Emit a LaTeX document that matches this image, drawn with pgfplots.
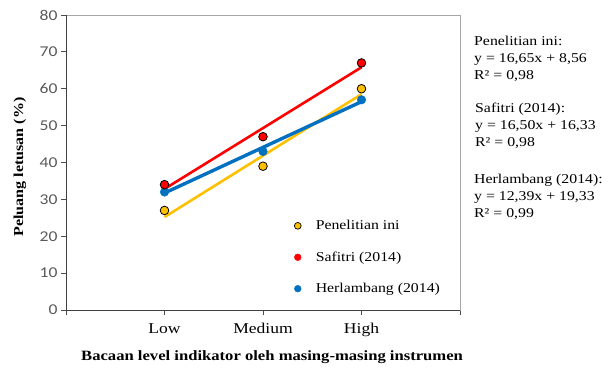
\documentclass[border=0pt]{standalone}
\usepackage{fontspec}
\setmainfont{Liberation Serif}[FakeStretch=1.17]
\newfontfamily\calibri{Carlito}[FakeStretch=1.17]
\usepackage{pgfplots}
\pgfplotsset{compat=1.18}
\definecolor{cyel}{HTML}{FFC000}
\definecolor{cred}{HTML}{FF0000}
\definecolor{cblue}{HTML}{0070C0}
\definecolor{framegrey}{HTML}{A6A6A6}
\definecolor{ticktext}{HTML}{595959}
\begin{document}
\begin{tikzpicture}[x=1pt,y=1pt]
\useasboundingbox (0,0) rectangle (609,368);
\begin{axis}[
  at={(66pt,58pt)}, anchor=south west,
  scale only axis, width=394pt, height=295pt,
  xmin=0, xmax=4, ymin=0, ymax=80,
  xtick={0,1,2,3,4}, xticklabels={,Low,Medium,High,},
  ytick={0,10,...,80},
  xtick pos=bottom, ytick pos=left, tick align=outside,
  major tick length=5pt,
  axis line style={draw=framegrey, line width=1pt},
  every tick/.style={draw=black!70, line width=0.8pt},
  /pgf/number format/assume math mode=true,
  yticklabel style={font=\calibri\fontsize{15}{17}\selectfont, text=ticktext},
  xticklabel style={font=\fontsize{15}{17}\selectfont, yshift=-5pt},
  xlabel={Bacaan level indikator oleh masing-masing instrumen},
  ylabel={Peluang letusan (\%)},
  xlabel style={font=\bfseries\fontsize{14.2}{16}\selectfont, at={(axis description cs:0.523,-0.16)}, anchor=center},
  ylabel style={font=\bfseries\fontsize{13.7}{16}\selectfont, at={(axis description cs:-0.117,0.485)}, anchor=center},
  legend style={at={(rel axis cs:0.570,0.318)}, anchor=north west, draw=none, fill=none,
    font=\fontsize{13.5}{16}\selectfont, row sep=16.5pt},
  legend cell align=left,
  legend image code/.code={\path[draw=none,fill=none] (-4pt,-2pt) rectangle (16pt,2pt); \draw[#1] plot coordinates {(0pt,0pt)};},
  clip=false,
]
% legend images
\addlegendimage{only marks, mark=*, mark size=3.4pt, mark options={draw=black, fill=cyel, line width=0.7pt}}
\addlegendentry{Penelitian ini}
\addlegendimage{only marks, mark=*, mark size=3.4pt, mark options={draw=cred, fill=cred}}
\addlegendentry{Safitri (2014)}
\addlegendimage{only marks, mark=*, mark size=3.4pt, mark options={draw=cblue, fill=cblue}}
\addlegendentry{Herlambang (2014)}
% Herlambang data (under the line)
\addplot[only marks, mark=*, mark size=4.3pt, mark options={draw=cblue, fill=cblue}, forget plot]
  coordinates {(1,32) (2,43) (3,57)};
% trend lines
\addplot[cyel, line width=2.6pt, forget plot] coordinates {(1,25.21) (3,58.51)};
\addplot[cblue, line width=3.4pt, forget plot] coordinates {(1,31.72) (3,56.50)};
\addplot[cred, line width=2.6pt, forget plot] coordinates {(1,32.83) (3,65.83)};
% Penelitian ini data
\addplot[only marks, mark=*, mark size=4.3pt, mark options={draw=black, fill=cyel, line width=0.8pt}, forget plot]
  coordinates {(1,27) (2,39) (3,60)};
% Safitri data
\addplot[only marks, mark=*, mark size=4.3pt, mark options={draw=black, fill=cred, line width=0.8pt}, forget plot]
  coordinates {(1,34) (2,47) (3,67)};
% dark left and bottom axis lines
\draw[black!75, line width=0.9pt] (rel axis cs:0,1) -- (rel axis cs:0,0) -- (rel axis cs:1,0);
\end{axis}
\begin{scope}[every node/.style={anchor=base west, inner sep=0pt, font=\fontsize{13.5}{16}\selectfont}]
\node at (474,323) {Penelitian ini:};
\node at (474,306) {y = 16,65x + 8,56};
\node at (474,289) {R² = 0,98};
\node at (475,255.3) {Safitri (2014):};
\node at (475,238.5) {y = 16,50x + 16,33};
\node at (475,222) {R² = 0,98};
\node at (474,185) {Herlambang (2014):};
\node at (474,168) {y = 12,39x + 19,33};
\node at (474,151) {R² = 0,99};
\end{scope}
\end{tikzpicture}
\end{document}
